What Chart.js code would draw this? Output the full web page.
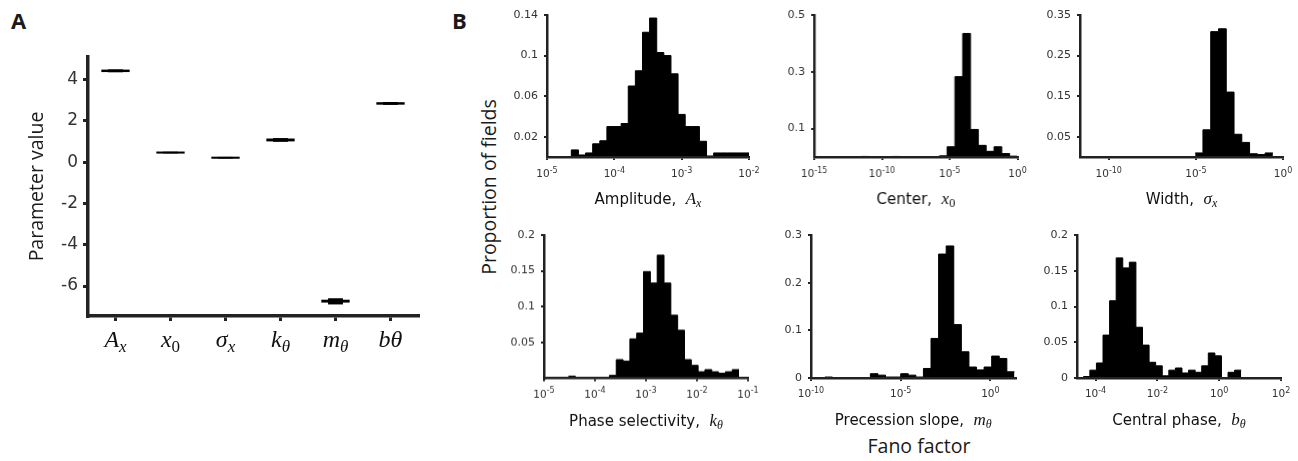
<!DOCTYPE html>
<html>
<head>
<meta charset="utf-8">
<script src="https://cdn.jsdelivr.net/npm/chart.js@4.4.1/dist/chart.umd.min.js"></script>
<style>
    body { margin: 0; width: 1298px; height: 461px; background: #fff; position: relative; overflow: hidden; color: #1a1a1a; font-family: "Open Sans", sans-serif; }
    .box { position: absolute; }
    .lbl { position: absolute; white-space: nowrap; line-height: 1; }
</style>
</head>
<body>
<div class="lbl" style="left:11px;top:9px;font-weight:700;font-size:22px">A</div>
<div class="lbl" style="left:452px;top:9px;font-weight:700;font-size:22px">B</div>
<div class="lbl" style="left:489px;top:187px;font-size:19.5px;transform:translate(-50%,-50%) rotate(-90deg)">Proportion of fields</div>
<div class="lbl" style="left:919px;top:446px;font-size:19.5px;transform:translate(-50%,-50%)">Fano factor</div>

<div class="box"><canvas id="paramChart"></canvas></div>
<div class="box"><canvas id="ampChart"></canvas></div>
<div class="box"><canvas id="centerChart"></canvas></div>
<div class="box"><canvas id="widthChart"></canvas></div>
<div class="box"><canvas id="phaseChart"></canvas></div>
<div class="box"><canvas id="slopeChart"></canvas></div>
<div class="box"><canvas id="centralChart"></canvas></div>

<script>
// ---- panel A: fitted parameter values (box = quartiles, inner bar = whiskers)
const paramLow  = [4.37, 0.42, 0.17, 1.01, -6.80, 2.79];
const paramHigh = [4.49, 0.52, 0.27, 1.15, -6.66, 2.91];
const whiskLow  = [4.36, 0.43, 0.18, 0.99, -6.89, 2.78];
const whiskHigh = [4.50, 0.51, 0.26, 1.17, -6.59, 2.92];
const paramYTicks = [-6, -4, -2, 0, 2, 4];

// ---- panel B: histograms, bins are uniform in log10(x)
// amplitude
const ampStart = -4.956, ampWidth = 0.1057;
const ampCounts = [0, 0, 0, 0.007, 0.002, 0.004, 0.013, 0.016, 0.030, 0.030, 0.033, 0.070, 0.085, 0.123,
    0.137, 0.103, 0.100, 0.082, 0.042, 0.030, 0.030, 0.0155, 0.001, 0.004, 0.004, 0.004, 0.004, 0.004];
const ampXTicks = [-5, -4, -3, -2];
const ampYTicks = [0.02, 0.06, 0.1, 0.14];

// center
const centerStart = -15, centerWidth = 0.5769;
const centerCounts = [0, 0, 0, 0, 0, 0, 0.002, 0, 0, 0, 0.002, 0, 0, 0, 0, 0, 0.004, 0.036, 0.283, 0.435,
    0.097, 0.041, 0.020, 0.036, 0.012, 0.003];
const centerXTicks = [-15, -10, -5, 0];
const centerYTicks = [0.1, 0.3, 0.5];

// width
const widthStart = -5.04, widthWidth = 0.446;
const widthCounts = [0.010, 0.067, 0.309, 0.316, 0.160, 0.056, 0.036, 0.008, 0.006, 0.010];
const widthXTicks = [-10, -5, 0];
const widthYTicks = [0.05, 0.15, 0.25, 0.35];

// phase selectivity
const phaseStart = -4.52, phaseWidth = 0.1338;
const phaseCounts = [0.003, 0, 0, 0, 0, 0, 0.004, 0.026, 0.024, 0.055, 0.063, 0.149, 0.133, 0.172, 0.133,
    0.088, 0.067, 0.026, 0.018, 0.009, 0.012, 0.009, 0.007, 0.009, 0.012];
const phaseXTicks = [-5, -4, -3, -2, -1];
const phaseYTicks = [0.05, 0.1, 0.15, 0.2];

// precession slope
const slopeStart = -9.65, slopeWidth = 0.4227;
const slopeCounts = [0, 0.002, 0, 0, 0, 0, 0, 0.009, 0.006, 0.002, 0.002, 0.009, 0.006, 0.002, 0.020, 0.083,
    0.260, 0.277, 0.112, 0.055, 0.023, 0.017, 0.023, 0.046, 0.041, 0.013];
const slopeXTicks = [-10, -5, 0];
const slopeYTicks = [0, 0.1, 0.2, 0.3];

// central phase
const centralStart = -4.397, centralWidth = 0.2129;
const centralCounts = [0.002, 0.011, 0.021, 0.060, 0.108, 0.168, 0.154, 0.162, 0.071, 0.046, 0.022, 0.017,
    0.003, 0.011, 0.014, 0.007, 0.011, 0.008, 0.017, 0.035, 0.031, 0, 0.008, 0.011];
const centralXTicks = [-4, -2, 0, 2];
const centralYTicks = [0, 0.05, 0.1, 0.15, 0.2];

const INK = '#222';
const SANS = '"DejaVu Sans", sans-serif';
const SERIF = '"Liberation Serif", serif';

// text runs for the math labels: italic letter + smaller subscript
const mathRuns = (main, sub, size, subSize, drop, upright) => [
    { text: main, font: 'italic ' + size + 'px ' + SERIF },
    { text: sub, font: (upright ? '' : 'italic ') + subSize + 'px ' + SERIF, dy: drop }
];
const titleRuns = (words, main, sub, upright) =>
    [{ text: words, font: '15px ' + SANS }].concat(mathRuns(main, sub, 17, 12, 3, upright));

// "10" with a raised exponent
const decadeRuns = (e) => [
    { text: '10', font: '10.5px ' + SANS },
    { text: String(e), font: '8px ' + SANS, dy: -4.5 }
];

const paramTickRuns = [
    mathRuns('A', 'x', 24, 17, 5),
    mathRuns('x', '0', 24, 17, 5, true),
    mathRuns('\u03C3', 'x', 24, 17, 5),
    mathRuns('k', '\u03B8', 24, 17, 5),
    mathRuns('m', '\u03B8', 24, 17, 5),
    [{ text: 'b\u03B8', font: 'italic 24px ' + SERIF }]
];

function drawRuns(ctx, runs, cx, y) {
    let w = 0;
    runs.forEach(r => { ctx.font = r.font; w += ctx.measureText(r.text).width; });
    let x = cx - w / 2;
    runs.forEach(r => {
        ctx.font = r.font;
        ctx.fillText(r.text, x, y + (r.dy || 0));
        x += ctx.measureText(r.text).width;
    });
}

// draws the x title and the x tick labels that need sub/superscripts
function mathPlugin(title, titleDy, tickRuns, tickDy) {
    return {
        id: 'mathText',
        afterDraw(chart) {
            const { ctx, chartArea } = chart;
            const xs = chart.scales.x;
            ctx.save();
            ctx.textBaseline = 'alphabetic';
            ctx.fillStyle = '#111';
            if (title) drawRuns(ctx, title, (chartArea.left + chartArea.right) / 2, chartArea.bottom + titleDy);
            if (tickRuns) {
                xs.ticks.forEach((t, i) => {
                    const x = xs.type === 'category' ? xs.getPixelForValue(i) : xs.getPixelForValue(t.value);
                    ctx.fillStyle = xs.type === 'category' ? '#111' : '#333';
                    drawRuns(ctx, tickRuns(t, i), x, chartArea.bottom + tickDy);
                });
            }
            ctx.restore();
        }
    };
}

// put the canvas box so that the plot area lands on [left, top, right, bottom]
function place(id, area, pad) {
    const box = document.getElementById(id).parentNode;
    box.style.left = (area[0] - pad.l) + 'px';
    box.style.top = (area[1] - pad.t) + 'px';
    box.style.width = (area[2] - area[0] + pad.l + pad.r) + 'px';
    box.style.height = (area[3] - area[1] + pad.t + pad.b) + 'px';
}

//panel A
const padA = { l: 62, t: 10, r: 10, b: 50 };
place('paramChart', [88, 57, 418, 316], padA);
new Chart(document.getElementById('paramChart'), {
    type: 'bar',
    data: {
        labels: ['A_x', 'x_0', 'sigma_x', 'k_theta', 'm_theta', 'b_theta'],
        datasets: [{
            data: paramLow.map((lo, i) => [lo, paramHigh[i]]),
            backgroundColor: '#000',
            borderWidth: 0,
            grouped: false,
            barPercentage: 0.515,
            categoryPercentage: 1
        }, {
            data: whiskLow.map((lo, i) => [lo, whiskHigh[i]]),
            backgroundColor: '#000',
            borderWidth: 0,
            grouped: false,
            barPercentage: 0.27,
            categoryPercentage: 1
        }]
    },
    options: {
        responsive: true,
        maintainAspectRatio: false,
        animation: false,
        layout: { padding: { left: 0, top: padA.t, right: padA.r, bottom: 0 } },
        plugins: { legend: { display: false }, tooltip: { enabled: false } },
        scales: {
            x: {
                offset: true,
                grid: { offset: false, drawOnChartArea: false, drawTicks: true, tickLength: 5, color: INK, lineWidth: 3 },
                border: { display: true, color: INK, width: 3.5, z: 1 },
                ticks: { color: 'rgba(0,0,0,0)' },
                afterFit: (s) => { s.height = padA.b; s.paddingLeft = 0; s.paddingRight = 0; }
            },
            y: {
                min: -7.45,
                max: 5.1,
                afterBuildTicks: (s) => { s.ticks = paramYTicks.map(v => ({ value: v })); },
                grid: { drawOnChartArea: false, drawTicks: true, tickLength: 5, color: INK, lineWidth: 3 },
                border: { display: true, color: INK, width: 3.5, z: 1 },
                ticks: { color: '#333', padding: 5, font: { family: SANS, size: 17 }, callback: (v) => String(v) },
                title: { display: true, text: 'Parameter value', color: '#1a1a1a', padding: { top: 0, bottom: 0 },
                    font: { family: '"Open Sans", sans-serif', size: 19.5 } },
                afterFit: (s) => { s.width = padA.l; s.paddingTop = 0; s.paddingBottom = 0; }
            }
        }
    },
    plugins: [mathPlugin(null, 0, (t, i) => paramTickRuns[i], 31)]
});

//panel B histograms
const padB = { l: 48, t: 8, r: 22, b: 60 };

function histogram(id, area, start, width, counts, xLo, xHi, xTicks, yMax, yTicks, title, tickDy) {
    place(id, area, padB);
    const points = counts.map((c, i) => ({ x: 10 ** (start + i * width), y: c }));
    points.push({ x: 10 ** (start + counts.length * width), y: counts[counts.length - 1] });

    new Chart(document.getElementById(id), {
        type: 'line',
        data: {
            datasets: [{
                data: points,
                stepped: true,
                fill: 'origin',
                backgroundColor: '#000',
                borderColor: '#000',
                borderWidth: 1,
                pointRadius: 0
            }]
        },
        options: {
            responsive: true,
            maintainAspectRatio: false,
            animation: false,
            layout: { padding: { left: 0, top: padB.t, right: padB.r, bottom: 0 } },
            plugins: { legend: { display: false }, tooltip: { enabled: false } },
            scales: {
                x: {
                    type: 'logarithmic',
                    min: 10 ** xLo,
                    max: 10 ** xHi,
                    afterBuildTicks: (s) => { s.ticks = xTicks.map(e => ({ value: 10 ** e, exp: e })); },
                    grid: { drawOnChartArea: false, drawTicks: true, tickLength: 3, color: INK, lineWidth: 2 },
                    border: { display: true, color: INK, width: 2.5, z: 1 },
                    ticks: { color: 'rgba(0,0,0,0)', autoSkip: false, maxRotation: 0, font: { family: SANS, size: 10 } },
                    afterFit: (s) => { s.height = padB.b; s.paddingLeft = 0; s.paddingRight = 0; }
                },
                y: {
                    min: 0,
                    max: yMax,
                    afterBuildTicks: (s) => { s.ticks = yTicks.map(v => ({ value: v })); },
                    grid: { drawOnChartArea: false, drawTicks: true, tickLength: 3, color: INK, lineWidth: 2 },
                    border: { display: true, color: INK, width: 2.5, z: 1 },
                    ticks: { color: '#333', padding: 6, font: { family: SANS, size: 11 },
                        callback: (v) => String(+v.toFixed(3)) },
                    afterFit: (s) => { s.width = padB.l; s.paddingTop = 0; s.paddingBottom = 0; }
                }
            }
        },
        plugins: [mathPlugin(title, 47, (t, i) => decadeRuns(xTicks[i]), tickDy)]
    });
}

histogram('ampChart', [547, 15, 749, 157], ampStart, ampWidth, ampCounts, -5, -2, ampXTicks, 0.14, ampYTicks,
    titleRuns('Amplitude,  ', 'A', 'x'), 20);
histogram('centerChart', [814, 15, 1016.5, 157], centerStart, centerWidth, centerCounts, -15, 0, centerXTicks, 0.5, centerYTicks,
    titleRuns('Center,  ', 'x', '0', true), 20);
histogram('widthChart', [1080, 15, 1283, 157], widthStart, widthWidth, widthCounts, -11.65, 0, widthXTicks, 0.35, widthYTicks,
    titleRuns('Width,  ', '\u03C3', 'x'), 20);
histogram('phaseChart', [544, 235, 748, 377.5], phaseStart, phaseWidth, phaseCounts, -5, -1, phaseXTicks, 0.2, phaseYTicks,
    titleRuns('Phase selectivity,  ', 'k', '\u03B8'), 19);
histogram('slopeChart', [810.5, 234.5, 1015, 377.5], slopeStart, slopeWidth, slopeCounts, -10, 1.4, slopeXTicks, 0.3, slopeYTicks,
    titleRuns('Precession slope,  ', 'm', '\u03B8'), 19);
histogram('centralChart', [1077, 234.5, 1281, 377.5], centralStart, centralWidth, centralCounts, -4.6, 2, centralXTicks, 0.2, centralYTicks,
    titleRuns('Central phase,  ', 'b', '\u03B8'), 19);
</script>
</body>
</html>
